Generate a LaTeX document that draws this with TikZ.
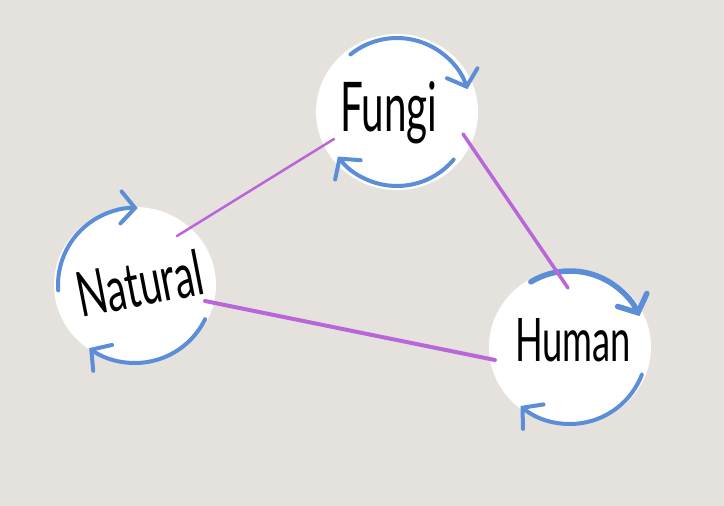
\documentclass[tikz,border=0pt]{standalone}
\usepackage{fontspec}
\newfontfamily\hand{Lato}
\usetikzlibrary{arrows.meta,shapes.geometric}
\definecolor{bg}{HTML}{E5E2DD}
\definecolor{cblue}{HTML}{5B8ED6}
\definecolor{cpurple}{HTML}{B966D8}
\tikzset{
  x=1pt, y=1pt,
  blob/.style={ellipse, fill=white, minimum width=162pt, minimum height=156pt, inner sep=0pt},
  cyc/.style={draw=cblue, line width=4pt, line cap=round, -{Straight Barb[length=14pt,width=32pt,line cap=round]}},
  link/.style={draw=cpurple, line cap=round},
  word/.style={anchor=base west, inner sep=0pt, text=black}
}
\begin{document}
\begin{tikzpicture}
\fill[bg] (0,0) rectangle (724,506);
\useasboundingbox (0,0) rectangle (724,506);
% circles
\node[blob] (fungi) at (397,394) {};
\node[blob] (natural) at (135,221) {};
\node[blob] (human) at (570,159) {};
% cycle arcs
\draw[cyc] ([shift={(129:74)}]fungi.center) arc[start angle=129, end angle=18, radius=74];
\draw[cyc] ([shift={(-40:74)}]fungi.center) arc[start angle=-40, end angle=-143, radius=74];
\draw[cyc] ([shift={(184:77)}]natural.center) arc[start angle=184, end angle=88, radius=77];
\draw[cyc] ([shift={(-26:78)}]natural.center) arc[start angle=-26, end angle=-126, radius=78];
\draw[cyc, line width=5.5pt] ([shift={(121:76)}]human.center) arc[start angle=121, end angle=24, radius=76];
\draw[cyc] ([shift={(-21:77)}]human.center) arc[start angle=-21, end angle=-130, radius=77];
% link end points
\coordinate (nf1) at (177,270);
\coordinate (nf2) at (334,367);
\coordinate (fh1) at (463,372);
\coordinate (fh2) at (568,218);
\coordinate (nh1) at (205,205);
\coordinate (nh2) at (495,146);
\draw[link, line width=2.5pt] (nf1) -- (nf2);
\draw[link, line width=3.5pt] (fh1) -- (fh2);
\draw[link, line width=4pt] (nh1) -- (nh2);
% labels
\node[word] (tf) at (340,374) {\resizebox{97pt}{50pt}{\hand Fungi}};
\node[word] (th) at (515,144) {\resizebox{116pt}{43pt}{\hand Human}};
\node[word, rotate=11] (tn) at (81,188) {\resizebox{128pt}{46pt}{\hand Natural}};
\end{tikzpicture}
\end{document}
